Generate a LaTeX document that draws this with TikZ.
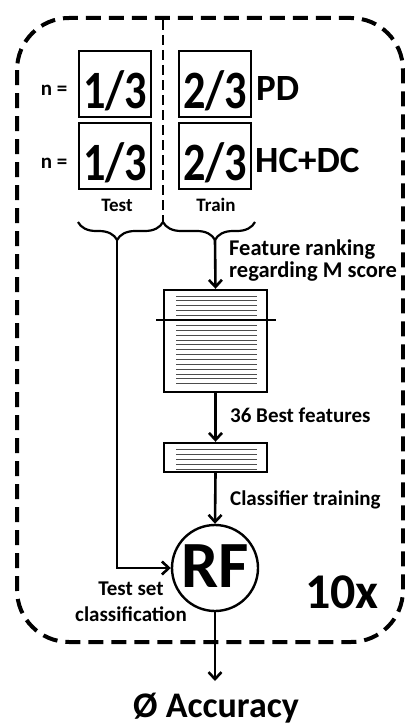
\documentclass[tikz,border=0pt]{standalone}
\usepackage{graphicx}
\usepackage{fontspec}
\setmainfont{Carlito}
\usetikzlibrary{arrows.meta, positioning, decorations.pathreplacing}

\begin{document}
\begin{tikzpicture}[
  x=1pt, y=-1pt,
  every node/.style={inner sep=0pt, font=\bfseries},
  frac/.style  ={rectangle, draw, line width=2.4pt, minimum width=72pt, minimum height=66pt},
  fracnum/.style={anchor=base, font=\fontsize{54}{54}\selectfont\bfseries},
  grp/.style   ={anchor=base west, font=\fontsize{37}{37}\selectfont\bfseries},
  small/.style ={anchor=base, font=\fontsize{21}{21}\selectfont\bfseries},
  note/.style  ={anchor=base west, font=\fontsize{21}{21}\selectfont\bfseries},
  featbox/.style={rectangle, draw, line width=2.4pt, minimum width=103pt},
  hatch/.style ={gray!60!black, line width=1pt},
  flow/.style  ={line width=2.6pt, -{Straight Barb[length=7pt, width=13pt, line width=2.6pt]}},
  brc/.style   ={line width=2.2pt, decorate, decoration={brace, mirror, amplitude=18pt}},
]
\useasboundingbox (0,0) rectangle (404,725);

%% outer repetition frame and test/train split
\draw[line width=4pt, dash pattern=on 15pt off 8pt, rounded corners=52pt] (17,18) rectangle (403,642);
\draw[line width=2.4pt, dash pattern=on 10pt off 5pt] (163,20) -- (163,224);

%% data split boxes
\node[frac] (tpd) at (115,84)  {};
\node[frac] (tdc) at (115,156) {};
\node[frac] (rpd) at (215,84)  {};
\node[frac] (rdc) at (215,156) {};
\node[fracnum] at (115,108) {\scalebox{0.82}[1]{1/3}};
\node[fracnum] at (115,180) {\scalebox{0.82}[1]{1/3}};
\node[fracnum] at (215,108) {\scalebox{0.82}[1]{2/3}};
\node[fracnum] at (215,180) {\scalebox{0.82}[1]{2/3}};

\node[small] (n1) at (54,95)  {n =};
\node[small] (n2) at (54,168) {n =};
\node[grp] (pd) at (256,100) {PD};
\node[grp] (dc) at (255,172) {HC+DC};
\node[small, font=\fontsize{19}{19}\selectfont\bfseries] (test)  at (117,211) {Test};
\node[small, font=\fontsize{19}{19}\selectfont\bfseries] (train) at (216,211) {Train};

%% braces under the columns
\draw[brc, decoration={aspect=0.46}]  (78,222)  -- (163,222);
\draw[brc, decoration={aspect=0.565}] (163,222) -- (255,222);
\coordinate (tsttip) at (117,240);
\coordinate (trntip) at (215,240);

%% ranked feature list, cut after the best ones
\node[featbox, minimum height=102pt] (rank) at (215.5,341) {};
\foreach \k in {0,...,4}
  \draw[hatch] (176,{296+4.8*\k}) -- (257,{296+4.8*\k});
\foreach \k in {0,...,12}
  \draw[hatch] (176,{325.5+4.85*\k}) -- (257,{325.5+4.85*\k});
\draw[line width=2.4pt] (156,320) -- (276,320);

%% selected features
\node[featbox, minimum height=29pt] (best) at (215.5,457.5) {};
\foreach \k in {0,...,4}
  \draw[hatch] (176,{449+5*\k}) -- (257,{449+5*\k});

%% classifier
\node[circle, draw, line width=2.4pt, minimum size=86pt] (rf) at (215,568) {};
\node[anchor=base, font=\fontsize{66}{66}\selectfont\bfseries] at (215,587) {RF};
\node[anchor=base, font=\fontsize{50}{50}\selectfont\bfseries] (rep) at (342,608) {10x};

\node[anchor=base, font=\fontsize{36}{36}\selectfont\bfseries] (acc) at (216,717) {Ø Accuracy};
\coordinate (accin) at (215,681);

%% flow
\draw[flow] (trntip) -- (rank.north);
\draw[flow] (rank.south) -- (best.north);
\draw[flow] (best.south) -- (rf.north);
\draw[flow] (tsttip) |- (rf.west);
\draw[flow] (rf.south) -- (accin);

%% step labels
\node[note, font=\fontsize{22.5}{22.5}\selectfont\bfseries] (lrank) at (229,255) {Feature ranking};
\node[note, font=\fontsize{22.5}{22.5}\selectfont\bfseries] at (229,277) {regarding M score};
\node[note] (lbest) at (230,422) {36 Best features};
\node[note] (ltrain) at (230,505) {Classifier training};
\node[anchor=base, font=\fontsize{21}{21}\selectfont\bfseries] (ltest) at (131,595) {Test set};
\node[anchor=base, font=\fontsize{21}{21}\selectfont\bfseries] at (131,621) {classification};

\end{tikzpicture}
\end{document}
